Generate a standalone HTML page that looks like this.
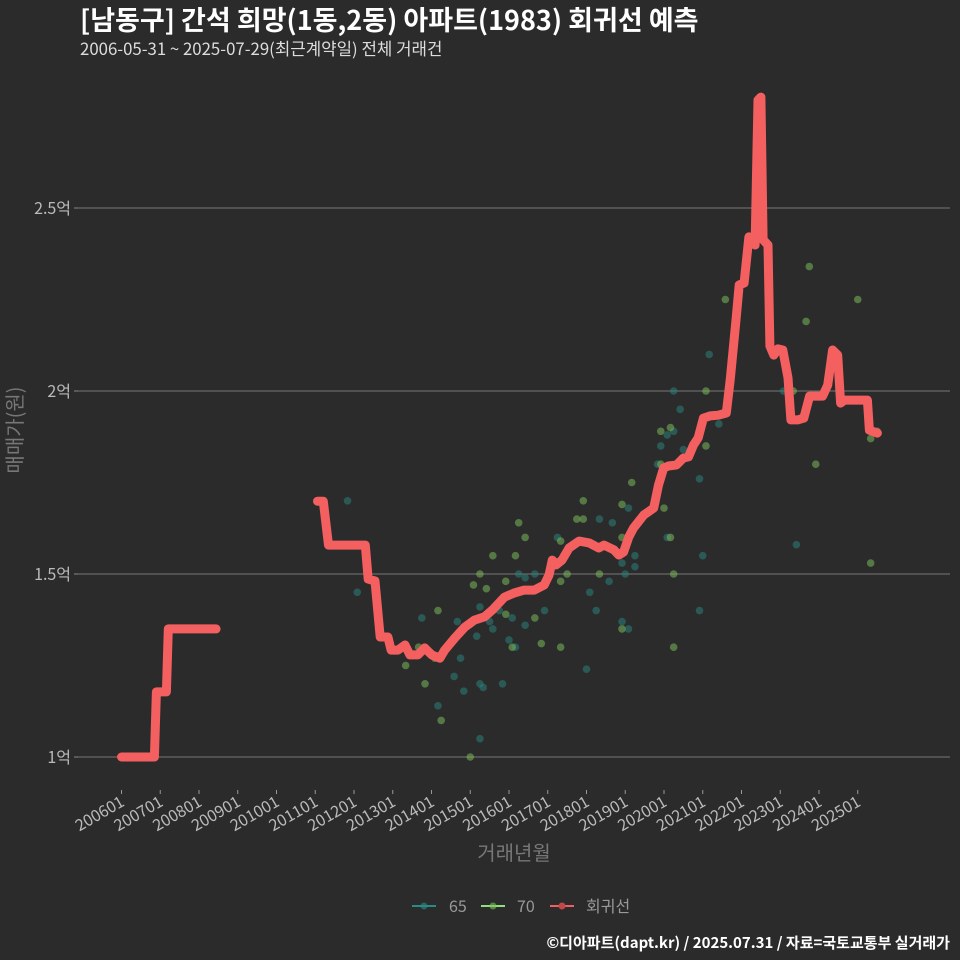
<!DOCTYPE html>
<html><head><meta charset="utf-8">
<style>
body{margin:0;background:#2b2b2c;}
svg{display:block;font-family:"Noto Sans CJK KR","Liberation Sans",sans-serif;}
</style></head>
<body>
<svg id="chart" width="960" height="960" viewBox="0 0 960 960">
<rect width="960" height="960" fill="#2b2b2c"/>
<text x="80" y="30" fill="#ffffff" font-size="27" font-weight="bold">[남동구] 간석 희망(1동,2동) 아파트(1983) 회귀선 예측</text>
<text x="80" y="55" fill="#dddddd" font-size="16.8">2006-05-31 ~ 2025-07-29(최근계약일) 전체 거래건</text>
<g id="grid"></g><g id="axes"></g><g id="pts"></g><g id="line"></g>
<text transform="translate(22,430) rotate(-90)" text-anchor="middle" fill="#777" font-size="20">매매가(원)</text>
<text x="514" y="860" text-anchor="middle" fill="#777" font-size="20">거래년월</text>
<g>
<g><line x1="412" y1="906" x2="436" y2="906" stroke="#2a8a86" stroke-width="2"/><circle cx="424" cy="906" r="3.5" fill="#2a8a86" opacity="0.6"/><text x="449" y="912" fill="#999" font-size="16">65</text></g>
<g><line x1="481" y1="906" x2="505" y2="906" stroke="#8fe07a" stroke-width="2"/><circle cx="493" cy="906" r="3.5" fill="#7ac05a" opacity="0.6"/><text x="517" y="912" fill="#999" font-size="16">70</text></g>
<g><line x1="550" y1="906" x2="574" y2="906" stroke="#f06060" stroke-width="2"/><circle cx="562" cy="906" r="3.5" fill="#c04848"/><text x="586" y="912" fill="#999" font-size="16">회귀선</text></g>
</g>
<text x="950" y="948" text-anchor="end" fill="#ffffff" font-size="15" font-weight="bold">©디아파트(dapt.kr) / 2025.07.31 / 자료=국토교통부 실거래가</text>
</svg>
<script>
const yTicks=[1,1.5,2,2.5];
const yTickLabels=["1억","1.5억","2억","2.5억"];
const xTickLabels=["200601","200701","200801","200901","201001","201101","201201","201301","201401","201501","201601","201701","201801","201901","202001","202101","202201","202301","202401","202501"];
// regression line: [month index since 2006-01, value in 억]; null = gap
const regMonths=[0,10.2,10.8,13.9,14.5,29.3,null,60.7,62.5,64.1,75.5,76.4,78.5,80.1,82.5,83.5,85.6,87.8,89.3,91.8,93.9,96.1,98.6,100.1,103.2,106.3,109.3,112.4,114.9,118.6,121.6,124.7,127.8,130.9,132.4,133.4,134.6,136.4,138.6,141.7,144.8,147.8,149.4,152.5,154.0,155.5,157.1,158.6,161.7,164.8,166.3,167.9,169.4,171.9,174.0,175.6,177.1,178.6,180.2,182.3,184.8,187.3,188.5,190.3,191.3,192.8,194.3,195.3,196.2,197.1,198.0,198.7,200.2,200.8,202.0,203.3,204.8,206.4,207.3,209.4,211.3,213.1,217.1,218.7,220.2,221.8,222.7,223.9,231.0,231.6,234.1];
const regValues=[1.00,1.00,1.178,1.178,1.35,1.35,null,1.699,1.699,1.579,1.579,1.486,1.481,1.328,1.328,1.292,1.292,1.306,1.279,1.279,1.298,1.279,1.270,1.292,1.325,1.355,1.374,1.383,1.402,1.437,1.448,1.456,1.456,1.470,1.497,1.538,1.525,1.538,1.571,1.590,1.585,1.571,1.579,1.566,1.552,1.560,1.601,1.626,1.661,1.680,1.743,1.790,1.795,1.798,1.817,1.820,1.852,1.872,1.926,1.932,1.934,1.940,2.030,2.194,2.290,2.295,2.421,2.418,2.399,2.795,2.803,2.413,2.399,2.123,2.098,2.115,2.112,2.036,1.921,1.921,1.926,1.986,1.986,2.016,2.112,2.098,1.967,1.975,1.975,1.893,1.885];
const m65=[171,173,171,169,174,167,166,179,157,148,152,135,169,159,180,155,159,123,125,128,156,151,145,93,111,117,121,131,147,179,104,114,115,125,155,157,110,120,122,105,144,103,106,111,112,118,98,111,70,73,185,182,209,205];
const v65=[2.00,1.95,1.89,1.88,1.84,1.85,1.80,1.76,1.68,1.65,1.64,1.60,1.60,1.55,1.55,1.53,1.52,1.50,1.49,1.50,1.50,1.48,1.45,1.38,1.41,1.40,1.38,1.40,1.40,1.40,1.37,1.37,1.35,1.36,1.37,1.35,1.33,1.32,1.30,1.27,1.24,1.22,1.18,1.20,1.19,1.20,1.14,1.05,1.70,1.45,1.91,2.10,1.58,2.00];
const m70=[181,167,170,181,167,158,143,155,168,141,143,123,125,136,155,170,115,122,111,138,148,171,109,113,119,136,98,119,128,155,121,92,130,136,171,88,97,94,99,108,187,212,213,228,215,208,232,232,234];
const v70=[2.00,1.89,1.90,1.85,1.80,1.75,1.70,1.69,1.68,1.65,1.65,1.64,1.60,1.59,1.60,1.60,1.55,1.55,1.50,1.50,1.50,1.50,1.47,1.46,1.48,1.48,1.40,1.39,1.38,1.35,1.30,1.30,1.31,1.30,1.30,1.25,1.27,1.20,1.10,1.00,2.25,2.19,2.34,2.25,1.80,2.00,1.53,1.87,1.89];

const NS="http://www.w3.org/2000/svg";
const X0=121.5, PX_M=38.75/12;
const xS=m=>X0+m*PX_M;
const yS=v=>757-(v-1)*366;
function mk(tag,attrs,parent){const e=document.createElementNS(NS,tag);for(const k in attrs)e.setAttribute(k,attrs[k]);parent.appendChild(e);return e;}
const grid=document.getElementById('grid'),axes=document.getElementById('axes');
yTicks.forEach((t,i)=>{
  const l=mk('line',{x1:78,x2:950,y1:yS(t),y2:yS(t),stroke:'#777','stroke-width':1},grid);
  
  
  mk('line',{x1:74,x2:78,y1:yS(t),y2:yS(t),stroke:'#888'},axes);
  const tx=mk('text',{x:71,y:yS(t)+6,'text-anchor':'end',fill:'#bbb','font-size':16},axes);
  tx.textContent=yTickLabels[i];
  
  
});
xTickLabels.forEach((lab,i)=>{
  const x=xS(i*12);
  mk('line',{x1:x,x2:x,y1:790,y2:794,stroke:'#999'},axes);
  const tx=mk('text',{transform:`translate(${x+4},${805}) rotate(-30)`,'text-anchor':'end',fill:'#bbb','font-size':16},axes);
  tx.textContent=lab;
  
  
});
const pts=document.getElementById('pts');
m65.forEach((m,i)=>{
  const c=mk('circle',{cx:xS(m),cy:yS(v65[i]),r:3.8,fill:'#2a7f7a','fill-opacity':0.55},pts);
  
  
});
m70.forEach((m,i)=>{
  const c=mk('circle',{cx:xS(m),cy:yS(v70[i]),r:3.8,fill:'#7ab85a','fill-opacity':0.55},pts);
  
  
});
let segs=[],cur=[];
regMonths.forEach((m,i)=>{if(m===null){segs.push(cur);cur=[];}else cur.push(xS(m).toFixed(1)+','+yS(regValues[i]).toFixed(1));});
segs.push(cur);
const lg=document.getElementById('line');
segs.forEach(s=>{
  const p=mk('polyline',{points:s.join(' '),fill:'none',stroke:'#f46060','stroke-width':9,'stroke-linejoin':'round','stroke-linecap':'round'},lg);
  
  
});
</script>
</body></html>
